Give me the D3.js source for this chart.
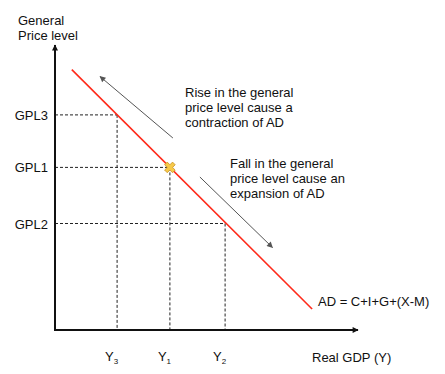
<!DOCTYPE html>
<html>
<head>
<meta charset="utf-8">
<script src="https://cdn.jsdelivr.net/npm/d3@7"></script>
<style>
  body { margin: 0; background: #fff; }
  text { font-family: "Liberation Sans", Arial, sans-serif; font-size: 13px; fill: #111; }
</style>
</head>
<body>
<svg id="chart" width="445" height="374"></svg>
<script>
// price levels and matching output levels on the AD curve
const priceLabels = ['GPL3', 'GPL1', 'GPL2']
const priceValues = [71.7, 54.2, 35.5]
const outputLabels = ['3', '1', '2']
const outputValues = [20.7, 38.3, 56.7]
// AD curve end points (output, price)
const adCurve = [[5.6, 86.8], [85.7, 7]]
const equilibrium = [38.3, 54.2]
// annotation arrows: [from, to]
const upArrow = [[39.3, 64], [15, 84.5]]
const downArrow = [[48.3, 51], [72.5, 27.5]]
const upText = ['Rise in the general', 'price level cause a', 'contraction of AD']
const downText = ['Fall in the general', 'price level cause an', 'expansion of AD']

const svg = d3.select('#chart')
const x = d3.scaleLinear().domain([0, 100]).range([55, 355])
const y = d3.scaleLinear().domain([0, 100]).range([330, 30])

const defs = svg.append('defs')
function head(id, color) {
  defs.append('marker')
    .attr('id', id)
    .attr('viewBox', '0 0 10 10')
    .attr('refX', 9).attr('refY', 5)
    .attr('markerWidth', 7).attr('markerHeight', 6)
    .attr('markerUnits', 'userSpaceOnUse')
    .attr('orient', 'auto')
    .append('path').attr('d', 'M0,0L10,5L0,10Z').attr('fill', color)
}
head('axisHead', '#111')
head('greyHead', '#555')

// dashed guides
const guides = svg.append('g')
  .attr('stroke', '#222')
  .attr('stroke-width', 1)
  .attr('stroke-dasharray', '3,2')
priceValues.forEach((p, i) => {
  guides.append('line')
    .attr('x1', x(0)).attr('x2', x(outputValues[i]))
    .attr('y1', y(p)).attr('y2', y(p))
  guides.append('line')
    .attr('x1', x(outputValues[i])).attr('x2', x(outputValues[i]))
    .attr('y1', y(p)).attr('y2', y(0))
})

// axes
svg.append('line')
  .attr('x1', x(0)).attr('y1', y(0))
  .attr('x2', x(0)).attr('y2', y(95))
  .attr('stroke', '#111').attr('stroke-width', 2)
  .attr('marker-end', 'url(#axisHead)')
svg.append('line')
  .attr('x1', x(0) - 1).attr('y1', y(0))
  .attr('x2', x(101)).attr('y2', y(0))
  .attr('stroke', '#111').attr('stroke-width', 2)
  .attr('marker-end', 'url(#axisHead)')

// AD curve
svg.append('path')
  .datum(adCurve)
  .attr('d', d3.line().x(d => x(d[0])).y(d => y(d[1])))
  .attr('fill', 'none')
  .attr('stroke', '#ff2a1a')
  .attr('stroke-width', 1.6)

// movement arrows
;[upArrow, downArrow].forEach(a => {
  svg.append('line')
    .attr('x1', x(a[0][0])).attr('y1', y(a[0][1]))
    .attr('x2', x(a[1][0])).attr('y2', y(a[1][1]))
    .attr('stroke', '#555').attr('stroke-width', 1)
    .attr('marker-end', 'url(#greyHead)')
})

// equilibrium marker
svg.append('path')
  .attr('transform', `translate(${x(equilibrium[0])},${y(equilibrium[1])}) rotate(45)`)
  .attr('d', d3.symbol(d3.symbolCross, 70)())
  .attr('fill', '#f7c948')
  .attr('stroke', '#c9962a')
  .attr('stroke-width', 0.8)

// price labels
svg.selectAll('.plabel')
  .data(priceLabels)
  .join('text')
  .attr('class', 'plabel')
  .attr('x', 48)
  .attr('y', (d, i) => y(priceValues[i]) + 5)
  .attr('text-anchor', 'end')
  .text(d => d)

// output labels
const ol = svg.selectAll('.olabel')
  .data(outputLabels)
  .join('text')
  .attr('class', 'olabel')
  .attr('x', (d, i) => x(outputValues[i]) - 12)
  .attr('y', 361)
ol.append('tspan').text('Y')
ol.append('tspan').attr('dy', 3).style('font-size', '8px').text(d => d)

// axis titles
svg.append('text').attr('x', 18).attr('y', 25).text('General')
svg.append('text').attr('x', 18).attr('y', 40).text('Price level')
svg.append('text').attr('x', 312).attr('y', 362).text('Real GDP (Y)')
svg.append('text').attr('x', 318).attr('y', 306).text('AD = C+I+G+(X-M)')

// notes
svg.append('text').attr('x', 185).attr('y', 97)
  .selectAll('tspan').data(upText).join('tspan')
  .attr('x', 185).attr('dy', (d, i) => i ? 15 : 0).text(d => d)
svg.append('text').attr('x', 230).attr('y', 168)
  .selectAll('tspan').data(downText).join('tspan')
  .attr('x', 230).attr('dy', (d, i) => i ? 15 : 0).text(d => d)
</script>
</body>
</html>
